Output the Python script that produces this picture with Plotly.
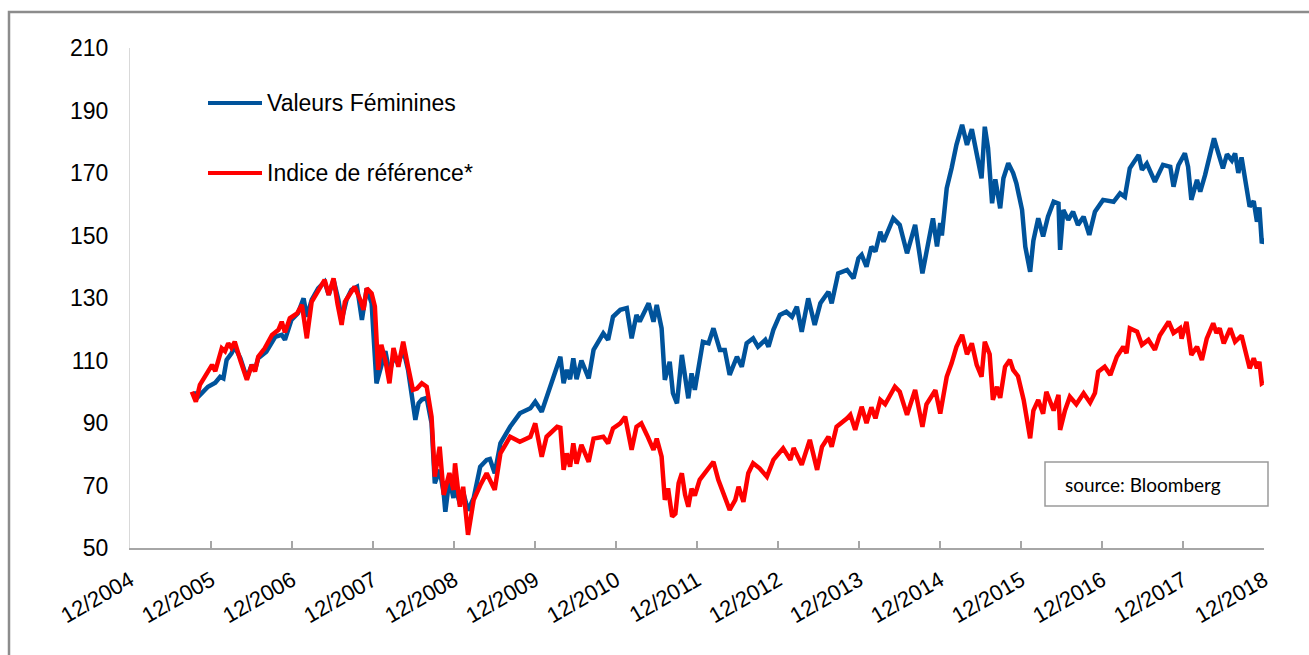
import plotly.graph_objects as go

# ---- data (decimal year, index value) ----
blue_t = [2005.70, 2005.74, 2005.80, 2005.88, 2005.97, 2006.03, 2006.07, 2006.11, 2006.17, 2006.21,
          2006.28, 2006.36, 2006.42, 2006.46, 2006.50, 2006.60, 2006.71, 2006.79, 2006.83, 2006.91,
          2006.99, 2007.06, 2007.10, 2007.16, 2007.24, 2007.32, 2007.37, 2007.43, 2007.49, 2007.53,
          2007.59, 2007.65, 2007.72, 2007.78, 2007.84, 2007.90, 2007.96, 2008.02, 2008.07, 2008.12,
          2008.17, 2008.23, 2008.29, 2008.35, 2008.44, 2008.48, 2008.52, 2008.58, 2008.64, 2008.68,
          2008.74, 2008.79, 2008.81, 2008.86, 2008.91, 2008.93, 2008.99, 2009.03, 2009.09, 2009.16,
          2009.24, 2009.32, 2009.36, 2009.42, 2009.49, 2009.61, 2009.73, 2009.86, 2009.92, 2010.00,
          2010.06, 2010.19, 2010.23, 2010.27, 2010.31, 2010.35, 2010.39, 2010.43, 2010.49, 2010.58,
          2010.64, 2010.76, 2010.82, 2010.88, 2010.97, 2011.05, 2011.11, 2011.17, 2011.21, 2011.32,
          2011.38, 2011.42, 2011.48, 2011.52, 2011.58, 2011.62, 2011.67, 2011.73, 2011.81, 2011.85,
          2011.89, 2011.99, 2012.06, 2012.12, 2012.20, 2012.26, 2012.32, 2012.41, 2012.47, 2012.53,
          2012.61, 2012.67, 2012.76, 2012.80, 2012.86, 2012.94, 2013.02, 2013.09, 2013.15, 2013.21,
          2013.29, 2013.37, 2013.44, 2013.54, 2013.58, 2013.66, 2013.77, 2013.85, 2013.91, 2013.95,
          2014.01, 2014.07, 2014.12, 2014.18, 2014.22, 2014.34, 2014.42, 2014.51, 2014.61, 2014.70,
          2014.77, 2014.83, 2014.88, 2014.92, 2014.94, 2015.00, 2015.06, 2015.12, 2015.19, 2015.25,
          2015.31, 2015.37, 2015.43, 2015.47, 2015.51, 2015.56, 2015.60, 2015.66, 2015.70, 2015.76,
          2015.82, 2015.86, 2015.93, 2015.97, 2016.03, 2016.07, 2016.13, 2016.19, 2016.25, 2016.32,
          2016.38, 2016.40, 2016.44, 2016.50, 2016.56, 2016.62, 2016.69, 2016.76, 2016.83, 2016.93,
          2017.06, 2017.14, 2017.20, 2017.26, 2017.37, 2017.41, 2017.47, 2017.57, 2017.67, 2017.76,
          2017.80, 2017.86, 2017.94, 2017.98, 2018.02, 2018.09, 2018.13, 2018.19, 2018.27, 2018.30,
          2018.35, 2018.41, 2018.46, 2018.52, 2018.56, 2018.60, 2018.64, 2018.70, 2018.74, 2018.79,
          2018.83, 2018.86, 2018.89, 2018.92]
blue_v = [100.0, 97.9, 99.5, 101.6, 102.9, 104.8, 104.3, 110.2, 112.3, 114.4,
          110.7, 104.3, 108.6, 107.0, 110.7, 112.8, 117.6, 118.2, 116.6, 123.0,
          125.1, 129.9, 124.0, 129.4, 133.1, 135.2, 131.0, 135.8, 129.4, 123.0,
          129.4, 132.6, 133.6, 123.0, 133.1, 128.3, 102.7, 109.1, 113.0, 106.0,
          111.0, 109.1, 113.5, 107.0, 91.0, 96.3, 97.5, 98.0, 89.9, 70.7,
          75.0, 67.5, 61.6, 72.0, 66.0, 70.0, 64.0, 68.0, 62.0, 66.0,
          76.0, 78.2, 78.5, 73.9, 83.5, 88.8, 93.1, 94.7, 96.8, 93.6,
          98.4, 109.1, 111.2, 102.7, 107.0, 104.0, 110.7, 104.0, 110.0, 104.3,
          113.4, 118.7, 116.6, 124.0, 126.2, 126.8, 117.1, 124.6, 122.5, 128.3,
          122.4, 127.8, 120.3, 103.8, 109.6, 99.5, 96.3, 111.8, 97.9, 105.9,
          100.6, 116.0, 115.5, 120.3, 113.4, 113.4, 105.4, 111.2, 108.0, 115.5,
          117.1, 114.4, 116.6, 114.4, 119.8, 124.6, 125.6, 124.0, 127.2, 119.2,
          129.9, 121.4, 128.3, 132.0, 128.3, 137.9, 139.0, 136.3, 142.7, 143.8,
          140.0, 146.4, 144.9, 151.2, 148.0, 155.5, 153.4, 144.3, 153.4, 137.9,
          147.5, 155.5, 146.5, 154.0, 150.0, 165.1, 171.5, 179.0, 185.4, 179.0,
          184.0, 175.2, 168.3, 184.8, 178.0, 160.3, 168.0, 158.7, 168.3, 173.1,
          170.0, 166.7, 158.2, 146.4, 138.4, 148.4, 155.5, 149.7, 156.0, 160.8,
          160.2, 145.4, 158.2, 155.0, 157.6, 153.4, 156.0, 150.2, 157.6, 161.4,
          160.8, 163.5, 162.4, 171.5, 175.8, 171.0, 173.0, 167.2, 172.6, 172.0,
          165.6, 172.5, 176.3, 172.0, 161.4, 167.8, 164.0, 169.4, 177.4, 181.1,
          176.6, 171.5, 176.0, 174.0, 176.3, 170.0, 175.0, 165.6, 159.2, 161.0,
          154.4, 159.0, 147.5, 149.1]

red_t = [2005.68, 2005.73, 2005.78, 2005.86, 2005.93, 2005.97, 2006.05, 2006.09, 2006.13, 2006.17,
         2006.21, 2006.28, 2006.36, 2006.42, 2006.46, 2006.50, 2006.58, 2006.67, 2006.75, 2006.79,
         2006.83, 2006.89, 2006.98, 2007.04, 2007.10, 2007.16, 2007.24, 2007.32, 2007.37, 2007.43,
         2007.48, 2007.53, 2007.57, 2007.63, 2007.69, 2007.76, 2007.80, 2007.84, 2007.90, 2007.94,
         2007.98, 2008.02, 2008.07, 2008.12, 2008.17, 2008.23, 2008.29, 2008.35, 2008.41, 2008.46,
         2008.52, 2008.58, 2008.64, 2008.68, 2008.74, 2008.79, 2008.86, 2008.91, 2008.93, 2008.99,
         2009.03, 2009.09, 2009.16, 2009.24, 2009.32, 2009.42, 2009.49, 2009.61, 2009.73, 2009.86,
         2009.92, 2010.00, 2010.06, 2010.19, 2010.23, 2010.27, 2010.31, 2010.35, 2010.39, 2010.43,
         2010.49, 2010.58, 2010.64, 2010.76, 2010.82, 2010.88, 2010.97, 2011.03, 2011.11, 2011.17,
         2011.23, 2011.30, 2011.38, 2011.42, 2011.48, 2011.52, 2011.56, 2011.61, 2011.65, 2011.69,
         2011.73, 2011.77, 2011.81, 2011.85, 2011.89, 2011.95, 2012.04, 2012.12, 2012.18, 2012.24,
         2012.32, 2012.39, 2012.43, 2012.49, 2012.55, 2012.61, 2012.69, 2012.78, 2012.86, 2012.98,
         2013.07, 2013.11, 2013.21, 2013.31, 2013.40, 2013.46, 2013.54, 2013.58, 2013.64, 2013.77,
         2013.81, 2013.87, 2013.95, 2014.01, 2014.07, 2014.12, 2014.18, 2014.24, 2014.36, 2014.42,
         2014.51, 2014.61, 2014.70, 2014.75, 2014.86, 2014.92, 2015.00, 2015.06, 2015.12, 2015.19,
         2015.25, 2015.31, 2015.37, 2015.43, 2015.47, 2015.53, 2015.57, 2015.62, 2015.66, 2015.72,
         2015.78, 2015.82, 2015.88, 2015.95, 2016.03, 2016.07, 2016.13, 2016.19, 2016.23, 2016.32,
         2016.38, 2016.40, 2016.46, 2016.52, 2016.60, 2016.69, 2016.77, 2016.83, 2016.87, 2016.95,
         2017.02, 2017.10, 2017.18, 2017.22, 2017.26, 2017.35, 2017.41, 2017.49, 2017.57, 2017.63,
         2017.74, 2017.80, 2017.88, 2017.90, 2017.96, 2018.02, 2018.09, 2018.15, 2018.21, 2018.29,
         2018.33, 2018.37, 2018.42, 2018.50, 2018.56, 2018.64, 2018.70, 2018.74, 2018.79, 2018.83,
         2018.86, 2018.89, 2018.92]
red_v = [100.0, 96.8, 102.2, 105.9, 108.6, 106.6, 113.9, 113.0, 115.5, 114.0,
         116.0, 110.0, 103.8, 108.6, 106.5, 111.2, 113.9, 118.2, 119.8, 122.4,
         119.0, 123.5, 125.1, 127.8, 117.1, 128.8, 132.6, 135.8, 131.0, 136.3,
         128.0, 121.4, 128.8, 131.0, 133.6, 129.4, 126.2, 133.1, 131.5, 127.3,
         107.0, 115.0, 110.0, 102.7, 114.0, 108.0, 116.0, 108.0, 100.6, 101.0,
         102.7, 101.6, 92.0, 72.8, 82.4, 67.0, 74.0, 68.6, 77.1, 63.2,
         69.6, 54.2, 65.4, 70.0, 73.9, 68.6, 80.3, 85.6, 84.0, 85.6,
         89.9, 79.2, 85.6, 88.8, 88.5, 75.0, 80.3, 76.0, 83.5, 77.0,
         83.0, 77.6, 85.0, 85.6, 83.5, 88.3, 89.9, 92.0, 81.4, 88.8,
         89.9, 86.1, 81.4, 85.0, 79.2, 65.4, 69.1, 60.0, 61.0, 70.7,
         73.9, 67.0, 63.2, 69.0, 66.8, 71.8, 75.0, 77.6, 71.8, 67.5,
         62.2, 65.4, 69.6, 64.8, 73.9, 77.1, 75.5, 72.8, 78.2, 81.9,
         78.2, 82.0, 76.6, 84.6, 75.0, 82.4, 85.6, 82.4, 88.8, 91.5,
         92.6, 87.8, 95.2, 90.0, 95.0, 91.5, 97.4, 96.0, 101.6, 100.0,
         92.6, 100.6, 88.8, 96.0, 100.5, 93.0, 104.8, 109.1, 114.4, 118.2,
         112.0, 115.5, 108.6, 104.8, 116.0, 112.0, 97.4, 101.6, 98.0, 108.0,
         110.2, 107.0, 105.0, 97.4, 85.1, 94.0, 97.4, 93.0, 100.0, 94.0,
         99.0, 87.8, 94.0, 98.4, 96.0, 99.5, 96.5, 99.6, 106.4, 108.0,
         105.4, 111.2, 114.4, 112.3, 120.3, 119.2, 115.0, 116.6, 113.4, 118.0,
         122.4, 118.8, 120.3, 117.0, 122.4, 111.8, 114.4, 110.2, 117.0, 121.9,
         118.8, 120.3, 115.5, 120.3, 116.0, 118.0, 112.3, 107.5, 110.7, 107.5,
         109.6, 102.7, 103.2]

series_names = ["Valeurs Féminines", "Indice de référence*"]
tick_years = [2004.917 + k for k in range(15)]
tick_labels = ["12/%d" % (2004 + k) for k in range(15)]
y_ticks = [50, 70, 90, 110, 130, 150, 170, 190, 210]
source_text = "source: Bloomberg"

BLUE = "#00539B"
RED = "#FF0000"
FONT = "Liberation Sans, Arial, sans-serif"

fig = go.Figure()
fig.add_trace(go.Scatter(x=blue_t, y=blue_v, mode="lines", name=series_names[0],
                         line=dict(color=BLUE, width=4.5), showlegend=False))
fig.add_trace(go.Scatter(x=red_t, y=red_v, mode="lines", name=series_names[1],
                         line=dict(color=RED, width=4.5), showlegend=False))

W, H = 1309, 655
L, R, T, B = 130, 45, 48, 107
pw, ph = W - L - R, H - T - B

def px(x):
    return (x - L) / pw

def py(y):
    return (H - B - y) / ph

shapes = [
    # outer frame
    dict(type="rect", xref="paper", yref="paper", x0=px(9), x1=px(1320), y0=py(670), y1=py(12),
         line=dict(color="#8c8c8c", width=2.5), fillcolor="rgba(0,0,0,0)", layer="below"),
    # legend lines
    dict(type="line", xref="paper", yref="paper", x0=px(208), x1=px(262), y0=py(103), y1=py(103),
         line=dict(color=BLUE, width=4)),
    dict(type="line", xref="paper", yref="paper", x0=px(208), x1=px(262), y0=py(173), y1=py(173),
         line=dict(color=RED, width=4)),
    # source box
    dict(type="rect", xref="paper", yref="paper", x0=px(1045), x1=px(1268), y0=py(506), y1=py(462),
         line=dict(color="#9a9a9a", width=1.5), fillcolor="white"),
]
annotations = [
    dict(xref="paper", yref="paper", x=px(265), y=py(103), text=series_names[0], showarrow=False,
         xanchor="left", yanchor="middle", font=dict(family=FONT, size=23, color="black")),
    dict(xref="paper", yref="paper", x=px(265), y=py(173), text=series_names[1], showarrow=False,
         xanchor="left", yanchor="middle", font=dict(family=FONT, size=23, color="black")),
    dict(xref="paper", yref="paper", x=px(1063), y=py(484), text=source_text, showarrow=False,
         xanchor="left", yanchor="middle", font=dict(family="Lato, Carlito, sans-serif", size=19, color="black")),
]

fig.update_layout(
    width=W, height=H,
    margin=dict(l=L, r=R, t=T, b=B, pad=0),
    paper_bgcolor="white", plot_bgcolor="white",
    font=dict(family=FONT, size=23, color="black"),
    shapes=shapes, annotations=annotations,
    xaxis=dict(range=[tick_years[0], tick_years[-1]], tickmode="array", tickvals=tick_years,
               ticktext=tick_labels, tickangle=-30, showgrid=False, zeroline=False,
               showline=True, linecolor="#a6a6a6", linewidth=2,
               ticks="inside", ticklen=7, tickwidth=2, tickcolor="#a6a6a6",
               ticklabelstandoff=9,
               tickfont=dict(family=FONT, size=22, color="black")),
    yaxis=dict(range=[50, 210], tickmode="array", tickvals=y_ticks, showgrid=False, zeroline=False,
               showline=True, linecolor="#d9d9d9", linewidth=1, ticks="",
               ticklabelstandoff=16,
               tickfont=dict(family=FONT, size=23, color="black")),
)

fig.write_html("out.html")
